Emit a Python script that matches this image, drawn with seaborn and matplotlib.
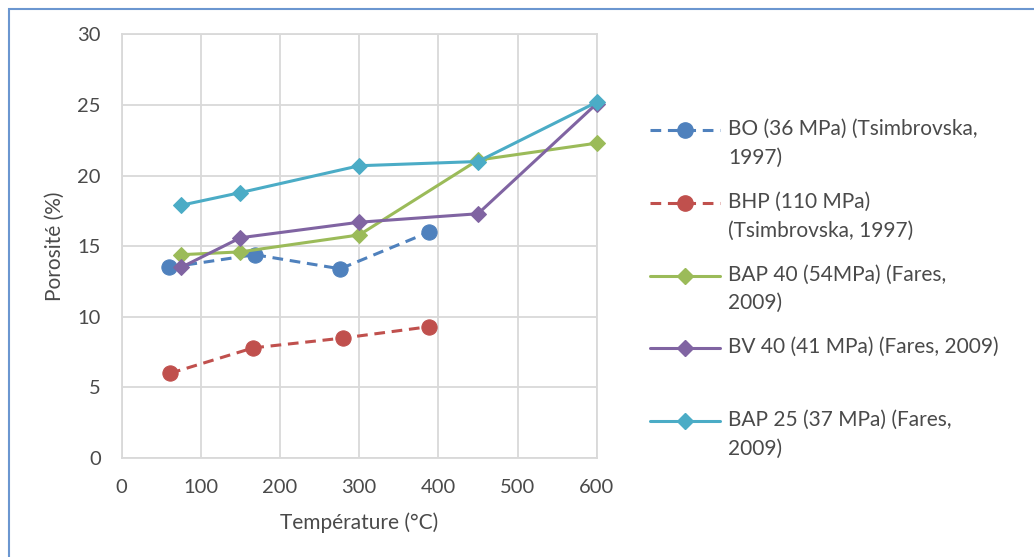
import numpy as np
import pandas as pd
import matplotlib
matplotlib.use("Agg")
import matplotlib.pyplot as plt
from matplotlib.lines import Line2D
from matplotlib.patches import Rectangle
import seaborn as sns

# Data
bo_temp = [60, 168, 276, 388]
bo_poro = [13.5, 14.4, 13.4, 16.0]

bhp_temp = [61, 166, 280, 388]
bhp_poro = [6.0, 7.8, 8.5, 9.3]

bap40_temp = [75, 150, 300, 450, 600]
bap40_poro = [14.4, 14.6, 15.8, 21.1, 22.3]

bv40_temp = [75, 150, 300, 450, 600]
bv40_poro = [13.5, 15.6, 16.7, 17.3, 25.1]

bap25_temp = [75, 150, 300, 450, 600]
bap25_poro = [17.9, 18.8, 20.7, 21.0, 25.2]

labels = [
    "BO (36 MPa) (Tsimbrovska,\n1997)",
    "BHP (110 MPa)\n(Tsimbrovska, 1997)",
    "BAP 40 (54MPa) (Fares,\n2009)",
    "BV 40 (41 MPa) (Fares, 2009)",
    "BAP 25 (37 MPa) (Fares,\n2009)",
]
colors = ["#4F81BD", "#C0504D", "#9BBB59", "#8064A2", "#4BACC6"]
markers = ["o", "o", "D", "D", "D"]
dashed = [True, True, False, False, False]

series = [(bo_temp, bo_poro), (bhp_temp, bhp_poro), (bap40_temp, bap40_poro),
          (bv40_temp, bv40_poro), (bap25_temp, bap25_poro)]

sns.set_style("white")
plt.rcParams["font.family"] = ["Lato", "DejaVu Sans"]
text_col = "#4a4a4a"

fig = plt.figure(figsize=(10.34, 5.57), dpi=100)
ax = fig.add_axes([0.1177, 0.1777, 0.4594, 0.7605])

for (t, p), lab, c, m, d in zip(series, labels, colors, markers, dashed):
    df = pd.DataFrame({"Température": t, "Porosité": p})
    sns.lineplot(data=df, x="Température", y="Porosité", ax=ax, color=c,
                 marker=m, markersize=11 if m == "o" else 8, markeredgecolor=c,
                 linewidth=2.2, linestyle=(0, (3.5, 2.2)) if d else "-",
                 clip_on=False, zorder=3)

ax.set_xlim(0, 600)
ax.set_ylim(0, 30)
ax.set_xticks(np.arange(0, 601, 100))
ax.set_yticks(np.arange(0, 31, 5))
ax.grid(True, color="#d9d9d9", linewidth=1.3)
for s in ax.spines.values():
    s.set_color("#d9d9d9")
    s.set_linewidth(1.3)
ax.tick_params(length=0, labelsize=14.5, labelcolor=text_col)
ax.tick_params(axis="x", pad=15)
ax.tick_params(axis="y", pad=15)
ax.set_xlabel("Température (°C)", fontsize=15, color=text_col, labelpad=12)
ax.set_ylabel("Porosité (%)", fontsize=15, color=text_col, labelpad=9)

# Legend drawn by hand so each handle sits on the first text line
W, H = 1034, 557
for i, (lab, c, m, d) in enumerate(zip(labels, colors, markers, dashed)):
    y = 130 + i * 72.75
    fy = 1 - y / H
    fig.add_artist(Line2D([650 / W, 720 / W], [fy, fy], color=c, linewidth=2.2,
                          linestyle=(0, (3.5, 2.2)) if d else "-",
                          transform=fig.transFigure))
    fig.add_artist(Line2D([685 / W], [fy], color=c, marker=m,
                          markersize=11 if m == "o" else 8, linestyle="none",
                          transform=fig.transFigure))
    fig.text(728 / W, fy + 11 / H, lab, fontsize=15, color=text_col,
             va="top", ha="left", linespacing=1.55)

# Outer chart frame
fig.add_artist(Rectangle((9 / W, -0.1), 1.2, 1.1 - 9 / H, fill=False,
                         edgecolor="#6b96d0", linewidth=1.5,
                         transform=fig.transFigure))

fig.savefig("out.png", dpi=100)
